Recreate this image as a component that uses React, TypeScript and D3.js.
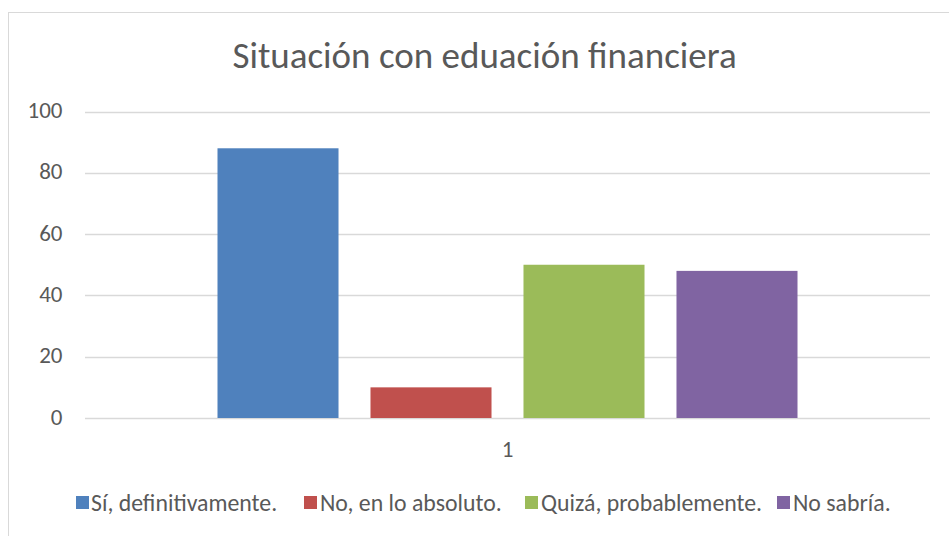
import React from "react";
import * as d3 from "d3";

const categories = ["1"];
const seriesNames = ["Sí, definitivamente.", "No, en lo absoluto.", "Quizá, probablemente.", "No sabría."];
const seriesValues = [88, 10, 50, 48];
const seriesColors = ["#4F81BD", "#C0504D", "#9BBB59", "#8064A2"];
const yTicks = [0, 20, 40, 60, 80, 100];
const title = "Situación con eduación financiera";

const W = 949;
const H = 536;
const FONT = "Carlito, 'Liberation Sans Narrow', 'DejaVu Sans Condensed', 'Liberation Sans', sans-serif";

export default function App() {
  const plot = { left: 85, right: 930, top: 111.5, bottom: 418 };
  const y = d3.scaleLinear().domain([0, 100]).range([plot.bottom, plot.top]);
  const x0 = d3.scaleBand<string>().domain(categories).range([plot.left, plot.right]);
  const x1 = d3
    .scaleBand<string>()
    .domain(seriesNames)
    .range([0, x0.bandwidth()])
    .paddingInner(0.209)
    .paddingOuter(0.866);

  const legendItems = [
    { x: 76, tx: 91 },
    { x: 304, tx: 320 },
    { x: 525, tx: 541 },
    { x: 777, tx: 793 },
  ];

  return (
    <svg width={W} height={H} style={{ position: "absolute", left: 0, top: 0, background: "#fff" }}>
      <rect x={8.5} y={12.5} width={941} height={530} fill="#fff" stroke="#D9D9D9" strokeWidth={1} />
      <text x={484.5} y={67.5} textAnchor="middle" fontFamily={FONT} fontSize={37} fill="#595959">
        {title}
      </text>
      {yTicks.map((t) => (
        <g key={t}>
          <line x1={plot.left} x2={plot.right} y1={Math.round(y(t)) + 0.5} y2={Math.round(y(t)) + 0.5} stroke="#D9D9D9" strokeWidth={1.5} />
          <text x={62.5} y={y(t) + 6.5} textAnchor="end" fontFamily={FONT} fontSize={23} fill="#595959">
            {t}
          </text>
        </g>
      ))}
      {categories.map((c) => (
        <g key={c}>
          {seriesNames.map((s, i) => (
            <rect
              key={s}
              x={(x0(c) ?? 0) + (x1(s) ?? 0)}
              y={y(seriesValues[i])}
              width={x1.bandwidth()}
              height={y(0) - y(seriesValues[i])}
              fill={seriesColors[i]}
            />
          ))}
          <text x={(x0(c) ?? 0) + x0.bandwidth() / 2} y={457} textAnchor="middle" fontFamily={FONT} fontSize={23} fill="#595959">
            {c}
          </text>
        </g>
      ))}
      {seriesNames.map((s, i) => (
        <g key={s}>
          <rect x={legendItems[i].x} y={496} width={13} height={13} fill={seriesColors[i]} />
          <text x={legendItems[i].tx} y={511} fontFamily={FONT} fontSize={23.8} fill="#595959">
            {s}
          </text>
        </g>
      ))}
    </svg>
  );
}
